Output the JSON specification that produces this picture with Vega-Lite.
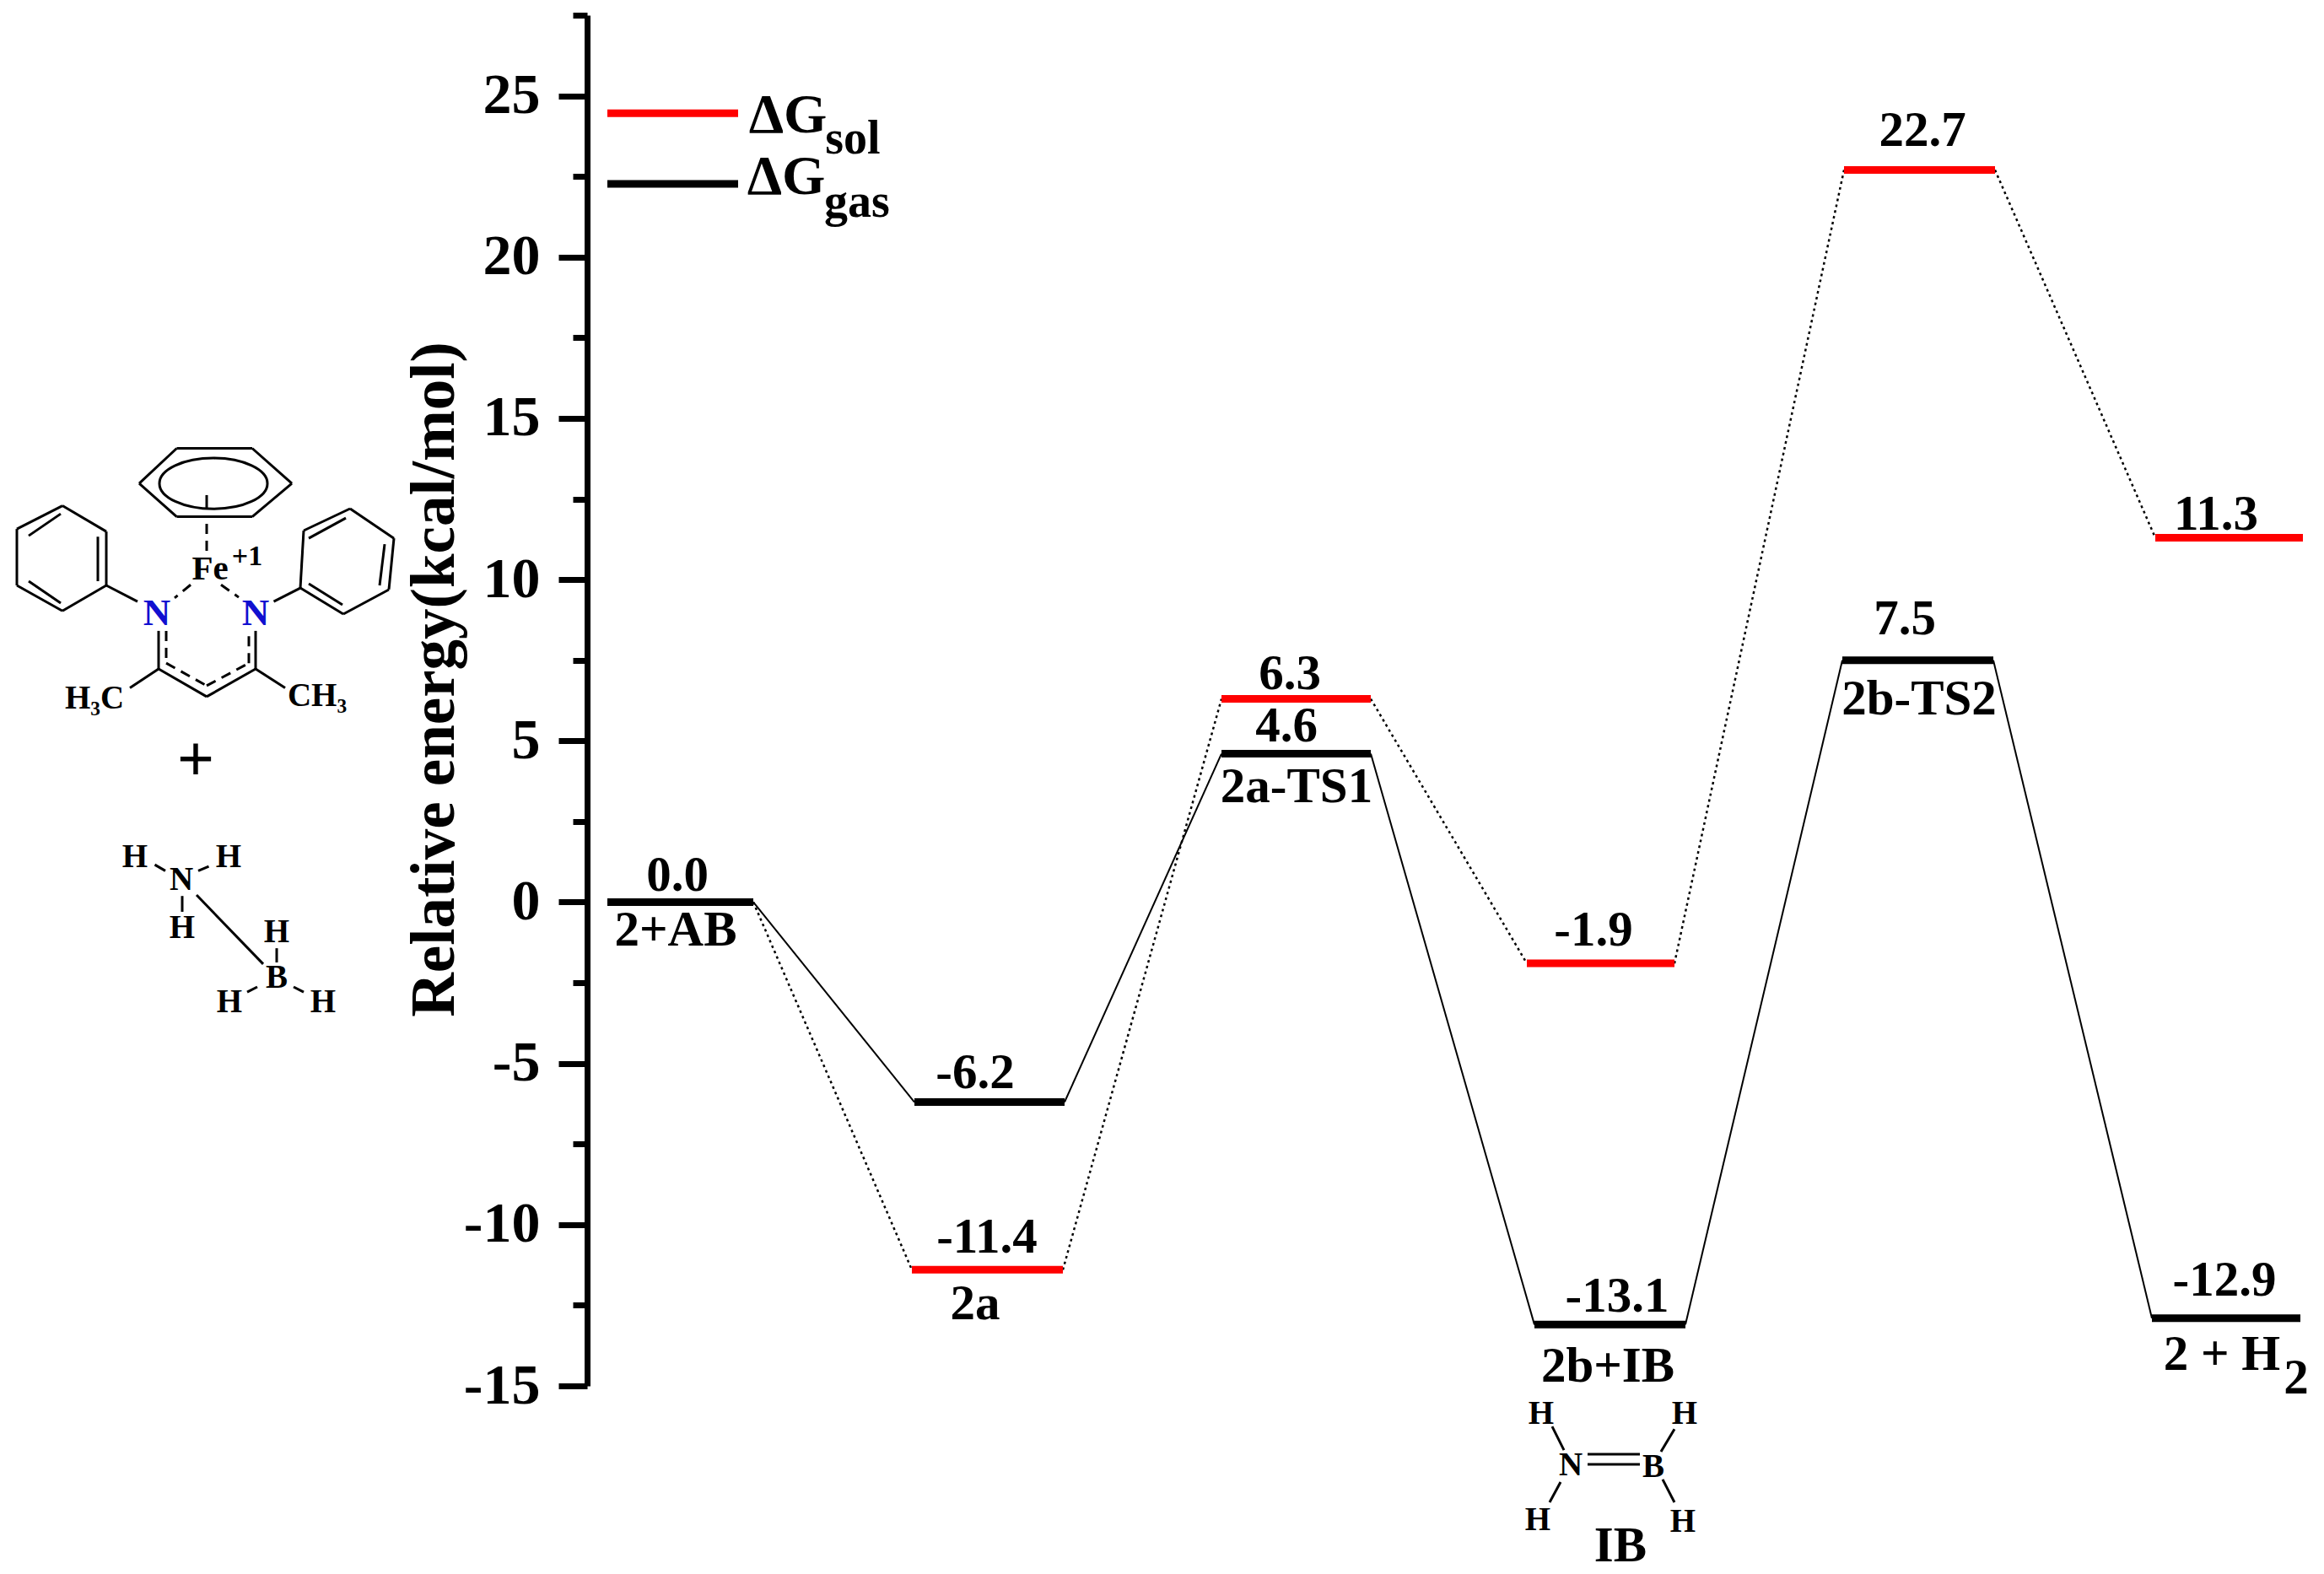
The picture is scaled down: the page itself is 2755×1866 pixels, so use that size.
{"$schema":"https://vega.github.io/schema/vega-lite/v6.json","width":2059,"height":1625,"autosize":"none","padding":{"left":696,"top":18,"right":0,"bottom":223},"background":"white","config":{"view":{"stroke":null},"text":{"font":"Liberation Serif","fontWeight":"bold","baseline":"middle","align":"center"}},
"datasets":{
"levels":[
{"state":"2+AB","series":"gas","x":0.24,"x2":1.97,"y":0},
{"state":"2a","series":"gas","x":3.88,"x2":5.66,"y":-6.2},
{"state":"2a-TS1","series":"gas","x":7.52,"x2":9.29,"y":4.6},
{"state":"2b+IB","series":"gas","x":11.23,"x2":13.02,"y":-13.1},
{"state":"2b-TS2","series":"gas","x":14.88,"x2":16.67,"y":7.5},
{"state":"2+H2","series":"gas","x":18.55,"x2":20.31,"y":-12.9},
{"state":"2a","series":"sol","x":3.85,"x2":5.64,"y":-11.4},
{"state":"2a-TS1","series":"sol","x":7.52,"x2":9.29,"y":6.3},
{"state":"2b+IB","series":"sol","x":11.14,"x2":12.89,"y":-1.9},
{"state":"2b-TS2","series":"sol","x":14.9,"x2":16.69,"y":22.7},
{"state":"2+H2","series":"sol","x":18.59,"x2":20.34,"y":11.3},
{"state":"legend sol","series":"sol","x":0.24,"x2":1.79,"y":24.46},
{"state":"legend gas","series":"gas","x":0.24,"x2":1.79,"y":22.27}],
"gasLinks":[
{"x":1.97,"y":0,"x2":3.88,"y2":-6.2},{"x":5.66,"y":-6.2,"x2":7.52,"y2":4.6},{"x":9.29,"y":4.6,"x2":11.23,"y2":-13.1},{"x":13.02,"y":-13.1,"x2":14.88,"y2":7.5},{"x":16.67,"y":7.5,"x2":18.55,"y2":-12.9}],
"solLinks":[
{"x":1.97,"y":0,"x2":3.85,"y2":-11.4},{"x":5.64,"y":-11.4,"x2":7.52,"y2":6.3},{"x":9.29,"y":6.3,"x2":11.14,"y2":-1.9},{"x":12.89,"y":-1.9,"x2":14.9,"y2":22.7},{"x":16.69,"y":22.7,"x2":18.59,"y2":11.3}],
"labels":[
{"t":"0.0","x":1.07,"y":0.82},{"t":"2+AB","x":1.05,"y":-0.88},{"t":"-6.2","x":4.6,"y":-5.3},{"t":"-11.4","x":4.74,"y":-10.4},{"t":"2a","x":4.6,"y":-12.46},{"t":"6.3","x":8.33,"y":7.07},{"t":"4.6","x":8.29,"y":5.45},{"t":"2a-TS1","x":8.41,"y":3.57},{"t":"-1.9","x":11.93,"y":-0.88},{"t":"-13.1","x":12.21,"y":-12.23},{"t":"2b+IB","x":12.1,"y":-14.4},{"t":"22.7","x":15.83,"y":23.92},{"t":"7.5","x":15.62,"y":8.77},{"t":"2b-TS2","x":15.79,"y":6.29},{"t":"11.3","x":19.31,"y":12.02},{"t":"-12.9","x":19.41,"y":-11.73},{"t":"2 + H","x":19.38,"y":-14.03},{"t":"2","x":20.26,"y":-14.77},{"t":"IB","x":12.25,"y":-19.97}],
"legendMain":[{"t":"ΔG","x":2.38,"y":24.39},{"t":"ΔG","x":2.36,"y":22.48}],
"legendSub":[{"t":"sol","x":3.15,"y":23.65},{"t":"gas","x":3.2,"y":21.69}],
"atoms":[
{"t":"H₃C","x":-5.84,"y":6.31},{"t":"CH₃","x":-3.2,"y":6.39},
{"t":"N","x":-4.81,"y":0.69},{"t":"H","x":-5.36,"y":1.4},{"t":"H","x":-4.25,"y":1.4},{"t":"H","x":-4.8,"y":-0.8},{"t":"B","x":-3.68,"y":-2.34},{"t":"H","x":-3.68,"y":-0.93},{"t":"H","x":-4.24,"y":-3.1},{"t":"H","x":-3.13,"y":-3.1},
{"t":"H","x":11.31,"y":-15.87},{"t":"H","x":13.01,"y":-15.87},{"t":"N","x":11.66,"y":-17.46},{"t":"B","x":12.64,"y":-17.51},{"t":"H","x":11.27,"y":-19.16},{"t":"H","x":12.99,"y":-19.21}],
"metal":[{"t":"Fe","x":-4.47,"y":10.32}],
"ligandN":[{"t":"N","x":-5.1,"y":8.96},{"t":"N","x":-3.93,"y":8.96}],
"charge":[{"t":"+1","x":-4.03,"y":10.71}],
"plus":[{"t":"+","x":-4.64,"y":4.35}],
"ring":[{"x":-4.43,"y":12.98}],
"bonds":[
{"x":-5.31,"y":12.98,"x2":-4.865,"y2":14.07},{"x":-4.865,"y":14.07,"x2":-3.97,"y2":14.07},{"x":-3.97,"y":14.07,"x2":-3.5,"y2":12.98},{"x":-3.5,"y":12.98,"x2":-3.97,"y2":11.95},{"x":-3.97,"y":11.95,"x2":-4.865,"y2":11.95},{"x":-4.865,"y":11.95,"x2":-5.31,"y2":12.98},
{"x":-4.51,"y":12.62,"x2":-4.51,"y2":12.22},
{"x":-6.22,"y":12.29,"x2":-5.7,"y2":11.49},{"x":-5.7,"y":11.49,"x2":-5.7,"y2":9.82},{"x":-5.7,"y":9.82,"x2":-6.22,"y2":9.03},{"x":-6.22,"y":9.03,"x2":-6.76,"y2":9.82},{"x":-6.76,"y":9.82,"x2":-6.76,"y2":11.57},{"x":-6.76,"y":11.57,"x2":-6.22,"y2":12.29},
{"x":-6.62,"y":11.36,"x2":-6.24,"y2":12.04},{"x":-5.8,"y":11.33,"x2":-5.8,"y2":9.95},{"x":-6.62,"y":9.95,"x2":-6.24,"y2":9.27},
{"x":-5.7,"y":9.82,"x2":-5.33,"y2":9.32},{"x":-3.715,"y":9.32,"x2":-3.4,"y2":9.74},
{"x":-3.4,"y":9.74,"x2":-3.36,"y2":11.52},{"x":-3.36,"y":11.52,"x2":-2.81,"y2":12.2},{"x":-2.81,"y":12.2,"x2":-2.29,"y2":11.28},{"x":-2.29,"y":11.28,"x2":-2.35,"y2":9.69},{"x":-2.35,"y":9.69,"x2":-2.89,"y2":8.93},{"x":-2.89,"y":8.93,"x2":-3.4,"y2":9.74},
{"x":-3.3,"y":11.28,"x2":-2.86,"y2":11.91},{"x":-2.4,"y":11.1,"x2":-2.46,"y2":9.82},{"x":-3.3,"y":9.87,"x2":-2.9,"y2":9.22},
{"x":-5.08,"y":8.41,"x2":-5.08,"y2":7.23},{"x":-5.08,"y":7.23,"x2":-4.51,"y2":6.37},{"x":-4.51,"y":6.37,"x2":-3.93,"y2":7.23},{"x":-3.93,"y":7.23,"x2":-3.93,"y2":8.41},
{"x":-5.08,"y":7.23,"x2":-5.42,"y2":6.64},{"x":-3.93,"y":7.23,"x2":-3.58,"y2":6.64},
{"x":-4.63,"y":0.22,"x2":-3.84,"y2":-1.92},{"x":-4.8,"y":0.19,"x2":-4.8,"y2":-0.3},{"x":-5.125,"y":1.16,"x2":-5.0,"y2":0.97},{"x":-4.61,"y":0.97,"x2":-4.485,"y2":1.11},
{"x":-3.68,"y":-1.43,"x2":-3.68,"y2":-1.87},{"x":-4.03,"y":-2.79,"x2":-3.91,"y2":-2.63},{"x":-3.48,"y":-2.63,"x2":-3.36,"y2":-2.79},
{"x":11.44,"y":-16.26,"x2":11.58,"y2":-16.99},{"x":12.89,"y":-16.34,"x2":12.73,"y2":-17.04},{"x":11.54,"y":-17.98,"x2":11.41,"y2":-18.61},{"x":12.75,"y":-17.9,"x2":12.89,"y2":-18.61},{"x":11.86,"y":-17.12,"x2":12.48,"y2":-17.12},{"x":11.86,"y":-17.43,"x2":12.48,"y2":-17.43}],
"dashedBonds":[
{"x":-4.51,"y":11.73,"x2":-4.51,"y2":10.84},{"x":-4.7,"y":9.84,"x2":-4.89,"y2":9.43},{"x":-4.34,"y":9.84,"x2":-4.13,"y2":9.45},
{"x":-4.99,"y":8.41,"x2":-4.99,"y2":7.41},{"x":-4.99,"y":7.41,"x2":-4.51,"y2":6.71},{"x":-4.51,"y":6.71,"x2":-4.01,"y2":7.41},{"x":-4.01,"y":7.41,"x2":-4.01,"y2":8.41}]
},
"encoding":{
"x":{"field":"x","type":"quantitative","scale":{"domain":[0,20.59],"nice":false,"zero":false},"axis":null},
"y":{"field":"y","type":"quantitative","scale":{"domain":[-15,27.5],"nice":false,"zero":false},"axis":{"title":"Relative energy(kcal/mol)","titleFont":"Liberation Serif","titleFontWeight":"bold","titleFontSize":73,"titleColor":"black","titleX":-181,"titleY":787,"titleAlign":"center","titleBaseline":"middle","values":[-15,-12.5,-10,-7.5,-5,-2.5,0,2.5,5,7.5,10,12.5,15,17.5,20,22.5,25,27.5],"labelExpr":"datum.value % 5 === 0 ? datum.value : ''","labelFont":"Liberation Serif","labelFontWeight":"bold","labelFontSize":68,"labelColor":"black","labelPadding":22,"labelOverlap":false,"labelBound":false,"labelFlush":false,"grid":false,"domainColor":"black","domainWidth":7,"tickColor":"black","tickWidth":7,"tickSize":{"expr":"datum.value % 5 === 0 ? 34 : 17"}}}
},
"layer":[
{"data":{"name":"gasLinks"},"mark":{"type":"rule","stroke":"black","strokeWidth":2,"clip":false},"encoding":{"x2":{"field":"x2"},"y2":{"field":"y2"}}},
{"data":{"name":"solLinks"},"mark":{"type":"rule","stroke":"black","strokeWidth":2.5,"strokeDash":[3,4],"clip":false},"encoding":{"x2":{"field":"x2"},"y2":{"field":"y2"}}},
{"data":{"name":"levels"},"mark":{"type":"rule","strokeWidth":9,"strokeCap":"butt","clip":false},"encoding":{"x2":{"field":"x2"},"color":{"field":"series","type":"nominal","scale":{"domain":["sol","gas"],"range":["#ff0000","#000000"]},"legend":null}}},
{"data":{"name":"labels"},"mark":{"type":"text","fontSize":59},"encoding":{"text":{"field":"t"}}},
{"data":{"name":"legendMain"},"mark":{"type":"text","fontSize":66},"encoding":{"text":{"field":"t"}}},
{"data":{"name":"legendSub"},"mark":{"type":"text","fontSize":56},"encoding":{"text":{"field":"t"}}},
{"data":{"name":"atoms"},"mark":{"type":"text","fontSize":39},"encoding":{"text":{"field":"t"}}},
{"data":{"name":"metal"},"mark":{"type":"text","fontSize":41},"encoding":{"text":{"field":"t"}}},
{"data":{"name":"ligandN"},"mark":{"type":"text","fontSize":45,"fill":"#1010d0"},"encoding":{"text":{"field":"t"}}},
{"data":{"name":"charge"},"mark":{"type":"text","fontSize":34},"encoding":{"text":{"field":"t"}}},
{"data":{"name":"plus"},"mark":{"type":"text","fontSize":78},"encoding":{"text":{"field":"t"}}},
{"data":{"name":"bonds"},"mark":{"type":"rule","stroke":"black","strokeWidth":3,"clip":false},"encoding":{"x2":{"field":"x2"},"y2":{"field":"y2"}}},
{"data":{"name":"dashedBonds"},"mark":{"type":"rule","stroke":"black","strokeWidth":3,"strokeDash":[12,8],"clip":false},"encoding":{"x2":{"field":"x2"},"y2":{"field":"y2"}}},
{"data":{"name":"ring"},"mark":{"type":"point","filled":false,"stroke":"black","strokeWidth":3,"opacity":1,"size":16384,"shape":"M -1 0 A 1 0.47 0 1 1 1 0 A 1 0.47 0 1 1 -1 0 Z","clip":false}}
]}
